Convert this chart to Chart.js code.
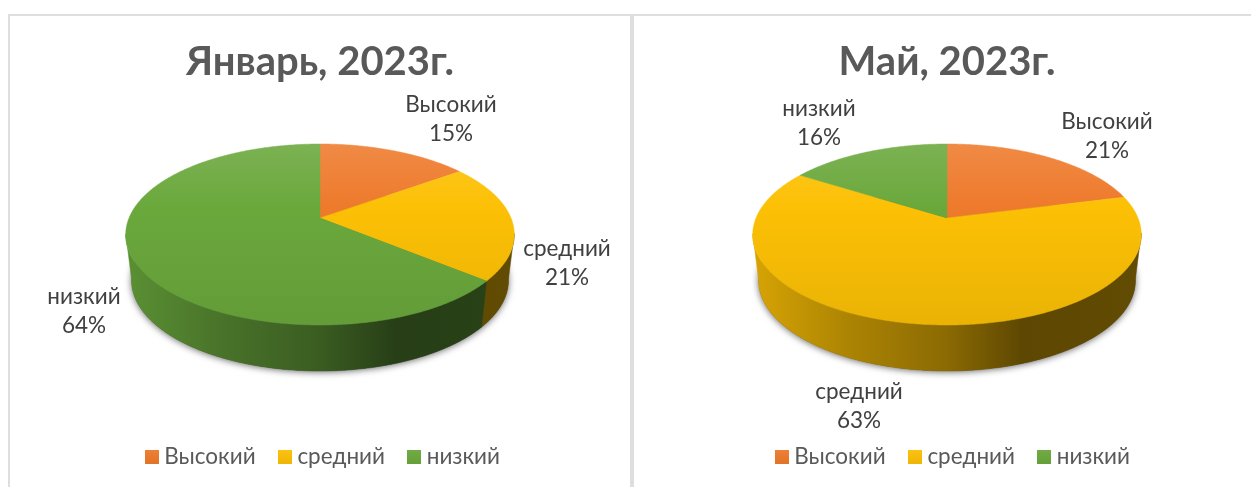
<!DOCTYPE html>
<html>
<head>
<meta charset="utf-8">
<title>Январь и май 2023</title>
<script src="https://cdn.jsdelivr.net/npm/chart.js@4/dist/chart.umd.min.js"></script>
<style>
    html, body { margin: 0; padding: 0; background: #fff; overflow: hidden; }
    canvas { position: absolute; top: 0; }
    .line { position: absolute; background: #dedede; }
</style>
</head>
<body>
<div class="line" style="left:8px;top:14px;width:1243px;height:2px"></div>
<div class="line" style="left:8px;top:14px;width:2px;height:473px"></div>
<div class="line" style="left:630px;top:14px;width:4px;height:473px"></div>
<canvas id="chart--jan" width="606" height="487" style="left:17px"></canvas>
<canvas id="chart--may" width="608" height="487" style="left:643px"></canvas>
<script>
const categories = ['Высокий', 'средний', 'низкий'];
const values_jan = [15, 21, 64];
const values_may = [21, 63, 16];
const title_jan = 'Январь, 2023г.';
const title_may = 'Май, 2023г.';
const colors = [[238, 122, 44], [252, 192, 5], [106, 168, 60]];

// label centres inside each canvas
const label_pos_jan = [[434, 120], [550, 264], [67, 312]];
const label_pos_may = [[464, 137], [216, 407], [176, 124]];

const FONT = 'Lato, "Open Sans", sans-serif';
const pie = { apexY: 218, rx: 191, ry: 87.5, k: -0.1823, depth: 46, baseScale: 0.97 };

// circle angle -> screen point, keeps the perspective of the original 3d pie
function project(cx, angle) {
    const u = Math.cos(angle), v = -Math.sin(angle);
    const d = 1 - pie.k * v;
    return [cx + pie.rx * u / d, pie.apexY - pie.ry * v / d];
}
function lower(cx, p) {
    return [cx + (p[0] - cx) * pie.baseScale, p[1] + pie.depth];
}
function rgb(c, f, white) {
    const m = c.map(x => Math.round(x * (f === undefined ? 1 : f) + 255 * (white || 0)));
    return 'rgb(' + m.join(',') + ')';
}
function rimPoints(cx, start, end) {
    const pts = [];
    const n = Math.max(2, Math.ceil((end - start) / 0.01));
    for (let i = 0; i <= n; i++) {
        pts.push(project(cx, start + (end - start) * i / n));
    }
    return pts;
}
function tracePoly(ctx, pts) {
    ctx.beginPath();
    pts.forEach((p, i) => i ? ctx.lineTo(p[0], p[1]) : ctx.moveTo(p[0], p[1]));
    ctx.closePath();
}

const pie3d = {
    id: 'pie3d',
    afterLayout(chart) {
        // legend in the original sits a bit right of the pie
        const shift = chart.options.plugins.pie3d.legendShift;
        chart.legend.left += shift;
        chart.legend.right += shift;
    },
    beforeDatasetDraw(chart, args) {
        const ctx = chart.ctx;
        const arcs = args.meta.data;
        const cx = arcs[0].x;
        const all = rimPoints(cx, 0, Math.PI * 2);
        const frontOf = pts => pts.filter(p => p[1] >= pie.apexY + 15);

        // soft shadow round the base
        ctx.save();
        ctx.shadowColor = 'rgba(0,0,0,0.6)';
        ctx.shadowBlur = 7;
        ctx.shadowOffsetY = 1;
        ctx.fillStyle = '#555';
        tracePoly(ctx, all.map(p => lower(cx, p)));
        ctx.fill();
        ctx.restore();

        // side wall
        arcs.forEach((arc, i) => {
            const front = frontOf(rimPoints(cx, arc.startAngle, arc.endAngle));
            if (front.length < 2) return;
            const g = ctx.createLinearGradient(cx - pie.rx, 0, cx + pie.rx, 0);
            g.addColorStop(0, rgb(colors[i], 0.85));
            g.addColorStop(0.25, rgb(colors[i], 0.68));
            g.addColorStop(0.5, rgb(colors[i], 0.55));
            g.addColorStop(0.7, rgb(colors[i], 0.37));
            g.addColorStop(1, rgb(colors[i], 0.39));
            ctx.fillStyle = g;
            const low = front.slice().reverse().map(p => lower(cx, p));
            tracePoly(ctx, front.concat(low));
            ctx.fill();
            ctx.strokeStyle = g;
            ctx.lineWidth = 0.5;
            ctx.stroke();
        });

        // top face
        arcs.forEach((arc, i) => {
            const g = ctx.createLinearGradient(0, pie.apexY - 74, 0, pie.apexY + 107);
            g.addColorStop(0, rgb(colors[i], 0.88, 0.12));
            g.addColorStop(0.35, rgb(colors[i]));
            g.addColorStop(1, rgb(colors[i], 0.93));
            ctx.fillStyle = g;
            tracePoly(ctx, [[cx, pie.apexY]].concat(rimPoints(cx, arc.startAngle, arc.endAngle)));
            ctx.fill();
            ctx.strokeStyle = g;
            ctx.lineWidth = 0.5;
            ctx.stroke();
        });
        return false;
    },
    afterDraw(chart) {
        const ctx = chart.ctx;
        const pos = chart.options.plugins.pie3d.labelPos;
        const vals = chart.data.datasets[0].data;
        ctx.save();
        ctx.font = '22.5px ' + FONT;
        ctx.fillStyle = '#404040';
        ctx.textAlign = 'center';
        ctx.textBaseline = 'middle';
        vals.forEach((v, i) => {
            ctx.fillText(chart.data.labels[i], pos[i][0], pos[i][1] - 15);
            ctx.fillText(v + '%', pos[i][0], pos[i][1] + 14);
        });
        ctx.restore();
    }
};

function legendBox(c) {
    const box = document.createElement('canvas');
    box.width = 14;
    box.height = 14;
    const b = box.getContext('2d');
    const g = b.createLinearGradient(0, 0, 0, 14);
    g.addColorStop(0, rgb(c, 0.95, 0.05));
    g.addColorStop(1, rgb(c, 0.95));
    b.fillStyle = g;
    b.fillRect(0, 0, 14, 14);
    return box;
}

function makeChart(id, title, values, labelPos, legendShift) {
    return new Chart(document.getElementById(id), {
        type: 'pie',
        data: {
            labels: categories,
            datasets: [{
                data: values,
                backgroundColor: colors.map(c => rgb(c)),
                borderWidth: 0
            }]
        },
        plugins: [pie3d],
        options: {
            responsive: false,
            animation: false,
            devicePixelRatio: 1,
            layout: { padding: { bottom: 9 } },
            plugins: {
                pie3d: { labelPos: labelPos, legendShift: legendShift },
                title: {
                    display: true,
                    text: title,
                    color: '#595959',
                    font: { family: FONT, size: 40, weight: 'bold' },
                    padding: { top: 38, bottom: 10 }
                },
                legend: {
                    position: 'bottom',
                    labels: {
                        color: '#595959',
                        font: { family: FONT, size: 22.5 },
                        usePointStyle: true,
                        pointStyleWidth: 2,
                        padding: 28.5,
                        generateLabels(chart) {
                            const items = Chart.overrides.doughnut.plugins.legend.labels.generateLabels(chart);
                            items.forEach((it, i) => { it.pointStyle = legendBox(colors[i]); });
                            return items;
                        }
                    }
                },
                tooltip: { enabled: false }
            }
        }
    });
}

var chartjan = makeChart('chart--jan', title_jan, values_jan, label_pos_jan, 5.5);
var chartmay = makeChart('chart--may', title_may, values_may, label_pos_may, 8.5);
</script>
</body>
</html>
